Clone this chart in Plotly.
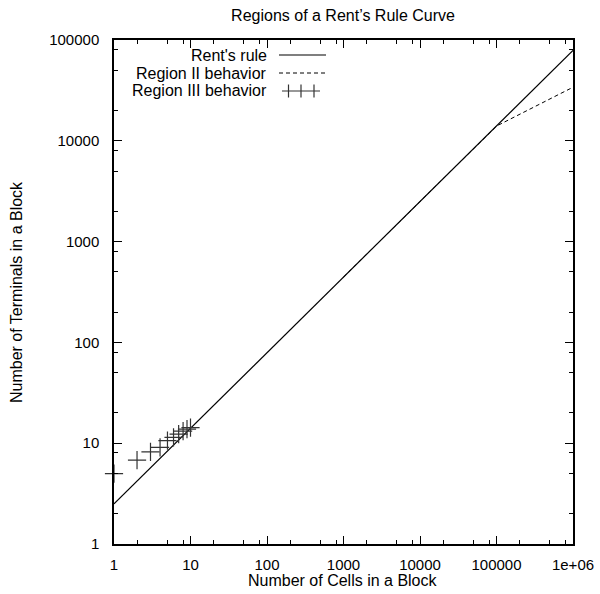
import plotly.graph_objects as go

# Data
rent_n = [1, 1e6]
rent_t = [2.5, 79000]
region2_n = [1000, 1e5, 1e6]
region2_t = [445, 14000, 34000]
region3_n = [1, 2, 3, 4, 5, 6, 7, 8, 9, 10]
region3_t = [5.0, 6.8, 8.2, 9.1, 10.6, 11.4, 12.3, 13.2, 13.8, 14.3]
x_ticks = [1, 10, 100, 1000, 10000, 100000, 1e6]
x_ticktext = ["1", "10", "100", "1000", "10000", "100000", "1e+06"]
y_ticks = [1, 10, 100, 1000, 10000, 100000]
y_ticktext = ["1", "10", "100", "1000", "10000", "100000"]
minor_mult = [2, 5, 8]

FONT = "Liberation Sans, Arial, Helvetica, sans-serif"
TXT = 16
TCK = 15

fig = go.Figure()
fig.add_trace(go.Scatter(x=rent_n, y=rent_t, mode="lines",
                         line=dict(color="black", width=1.2), name="Rent's rule"))
fig.add_trace(go.Scatter(x=region2_n, y=region2_t, mode="lines",
                         line=dict(color="black", width=1, dash="4px,3px"), name="Region II behavior"))
fig.add_trace(go.Scatter(x=region3_n, y=region3_t, mode="markers", cliponaxis=False,
                         marker=dict(symbol="cross-thin", size=13, line=dict(color="#333333", width=1.2)),
                         name="Region III behavior"))

x_minor = [m * 10 ** e for e in range(0, 6) for m in minor_mult]
y_minor = [m * 10 ** e for e in range(0, 5) for m in minor_mult]

common = dict(type="log", showgrid=False, zeroline=False, showline=True, linecolor="black",
              linewidth=1.5, mirror="ticks", ticks="inside", ticklen=8, tickwidth=1,
              tickcolor="black", automargin=False,
              tickfont=dict(family=FONT, size=TCK, color="black"))

fig.update_xaxes(range=[0, 6], tickvals=x_ticks, ticktext=x_ticktext, ticklabelstandoff=6,
                 minor=dict(tickvals=x_minor, ticks="inside", ticklen=4, tickcolor="black", showgrid=False),
                 title=dict(text="Number of Cells in a Block", font=dict(family=FONT, size=TXT, color="black"),
                            standoff=8),
                 **common)
fig.update_yaxes(range=[0, 5], tickvals=y_ticks, ticktext=y_ticktext, ticklabelstandoff=10,
                 minor=dict(tickvals=y_minor, ticks="inside", ticklen=4, tickcolor="black", showgrid=False),
                 title=dict(text="Number of Terminals in a Block", font=dict(family=FONT, size=TXT, color="black"),
                            standoff=14),
                 **common)

# Manual gnuplot-style legend (text right-aligned, sample at right)
W, H = 600, 594
L, R, T, B = 114, 27, 40, 50
pw, ph = W - L - R, H - T - B

def px(x):
    return (x - L) / pw

def py(y):
    return 1 - (y - T) / ph

names = ["Rent's rule", "Region II behavior", "Region III behavior"]
rows = [55, 73, 91]
for nm, yy in zip(names, rows):
    fig.add_annotation(x=px(269), y=py(yy), xref="paper", yref="paper", text=nm, showarrow=False,
                       xanchor="right", yanchor="middle", font=dict(family=FONT, size=TXT, color="black"))

fig.add_shape(type="line", xref="paper", yref="paper", x0=px(279), x1=px(326), y0=py(55), y1=py(55),
              line=dict(color="black", width=1.2))
fig.add_shape(type="line", xref="paper", yref="paper", x0=px(279), x1=px(326), y0=py(73), y1=py(73),
              line=dict(color="black", width=1, dash="4px,3px"))
fig.add_shape(type="line", xref="paper", yref="paper", x0=px(282), x1=px(320), y0=py(91), y1=py(91),
              line=dict(color="#333333", width=1.2))
for cx in [288.5, 301, 314]:
    fig.add_shape(type="line", xref="paper", yref="paper", x0=px(cx), x1=px(cx), y0=py(84.5), y1=py(97.5),
                  line=dict(color="#333333", width=1.2))

# Axis titles placed as annotations for exact placement
fig.update_xaxes(title_text="")
fig.update_yaxes(title_text="")
fig.add_annotation(x=px(343), y=py(580), xref="paper", yref="paper", text="Number of Cells in a Block",
                   showarrow=False, xanchor="center", yanchor="middle",
                   font=dict(family=FONT, size=TXT, color="black"))
fig.add_annotation(x=px(16), y=py(292), xref="paper", yref="paper", text="Number of Terminals in a Block",
                   showarrow=False, xanchor="center", yanchor="middle", textangle=-90,
                   font=dict(family=FONT, size=TXT, color="black"))

fig.update_layout(
    width=W, height=H, margin=dict(l=L, r=R, t=T, b=B),
    paper_bgcolor="white", plot_bgcolor="white", showlegend=False,
    title=dict(text="Regions of a Rent\u2019s Rule Curve", x=343 / W, xanchor="center",
               y=1 - 15 / H, yanchor="middle", yref="container",
               font=dict(family=FONT, size=TXT, color="black")),
)

fig.write_html("out.html")
